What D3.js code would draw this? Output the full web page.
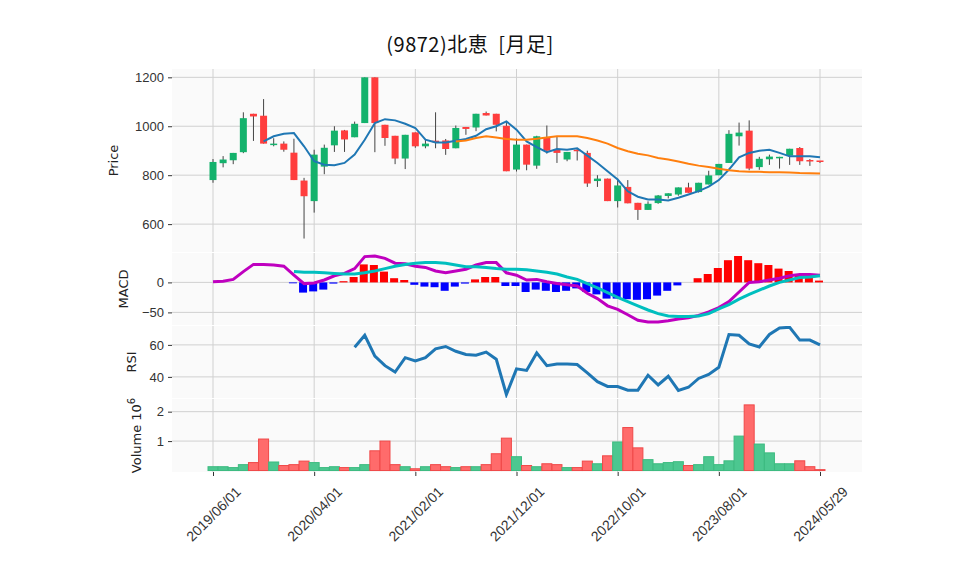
<!DOCTYPE html>
<html>
<head>
<meta charset="utf-8">
<script src="https://cdn.jsdelivr.net/npm/d3@7"></script>
<style>
  body { margin: 0; background: #fff; }
  svg { display: block; font-family: "DejaVu Sans", sans-serif; }
</style>
</head>
<body>
<svg id="chart" width="958" height="575"></svg>
<script>
// monthly bars 2019/06 .. 2024/05/29 (61 points)
const opens  = [780,849,861,894,1051,1043,925,929,892,778,694,835,922,983,955,1013,1200,1006,961,868,975,918,941,942,910,997,995,1054,1051,1002,823,925,839,956,907,864,904,891,776,786,694,752,687,658,686,715,721,750,731,762,800,850,959,982,833,865,869,880,911,862,860]
const closes = [854,864,891,1033,1040,929,929,904,780,714,884,912,982,946,1010,1200,1013,952,868,965,918,929,937,907,993,989,1051,1044,1006,816,925,843,959,900,891,895,900,766,786,694,758,685,658,683,717,726,750,728,769,799,846,969,974,827,867,876,875,908,857,860,854]
const highs  = [866,878,891,1057,1051,1111,951,938,949,789,904,925,1000,985,1019,1200,1200,1006,961,965,975,948,1057,948,1003,997,1051,1060,1051,1019,950,925,961,1003,960,895,908,900,800,786,786,780,687,693,719,726,750,769,769,818,846,984,1015,1024,875,884,875,908,915,866,858]
const lows   = [769,832,845,890,940,929,918,896,780,541,647,804,895,895,955,1013,894,920,845,825,912,910,910,883,910,965,980,1044,979,816,815,820,826,888,850,857,860,752,752,694,668,685,617,658,683,705,716,728,729,762,800,850,921,820,822,842,827,842,842,838,850]
const volumes = [.13,.13,.10,.20,.27,1.07,.29,.17,.20,.32,.27,.10,.13,.10,.10,.20,.67,1.0,.20,.13,.06,.13,.20,.13,.10,.13,.13,.20,.57,1.1,.47,.17,.13,.23,.20,.10,.10,.32,.23,.50,.97,1.46,.77,.37,.23,.27,.30,.17,.20,.47,.20,.33,1.17,2.23,.90,.60,.23,.23,.33,.13,.03]
const ma6 = [null,null,null,null,null,938,959,969,972,918,857,843,841,850,884,945,1013,1029,1024,1010,993,945,934,934,941,948,961,988,1000,1020,986,938,915,894,907,904,910,880,850,816,782,734,712,701,701,697,708,721,735,753,780,823,873,891,900,904,891,877,877,877,873]
const ma25Start = 24
const ma25 = [938,942,952,959,954,948,945,945,949,954,959,959,959,952,942,929,911,898,888,881,870,864,856,847,839,833,826,820,816,814,814,812,812,811,809,808,807]
const macd = [1,2,5,18,30,30,29,27,12,-2,-1,4,11,15,23,43,44,40,32,31,27,25,19,16,19,22,29,33,33,16,12,4,5,1,-2,-4,-6,-18,-27,-39,-45,-54,-63,-66,-66,-64,-61,-59,-55,-49,-42,-32,-16,0,1,4,7,11,13,13,12]
const sigStart = 8
const signal = [18,17,17,16,15,14,14,16,19,23,27,30,32,33,33,32,29,26,26,25,23,22,22,21,19,17,14,9,5,-2,-9,-17,-25,-32,-39,-46,-52,-56,-57,-57,-56,-52,-44,-37,-28,-20,-13,-6,0,4,8,9,11]
const hist = [-1.5,-17,-15,-12,-2,2,9,30,29,18,7,4,-4,-7,-8,-14,-7,-2,5,9,9,-6,-6,-16,-12,-14,-16,-14,-10,-16,-20,-27,-27,-28,-29,-28,-22,-14,-5,0,7,14,24,37,44,37,32,29,23,19,14,9,3]
const rsiStart = 14
const rsi = [58.5,66,53,47,43,52,50,52,57.5,59,56,54,53.5,55.5,51,29,45,44,55,47,48,48,47.7,42.5,37,34,34,31.7,31.7,41,35,40.4,31.5,33.5,39,41.5,46,66.5,66,60.6,58.7,66.5,70.6,71,63,63,60]
const tickIdx = [0,10,20,30,40,50,60]
const tickLabels = ["2019/06/01","2020/04/01","2021/02/01","2021/12/01","2022/10/01","2023/08/01","2024/05/29"]

const svg = d3.select("#chart")
const left = 172, right = 862
const x = d3.scaleLinear().domain([0, 60]).range([213, 820])

const panels = {
  price: { top: 69, bottom: 252, domain: [486, 1234], ticks: [600, 800, 1000, 1200], label: "Price", lx: 118 },
  macd: { top: 253, bottom: 325, domain: [-71, 49], ticks: [-50, 0], label: "MACD", lx: 128 },
  rsi: { top: 326, bottom: 398, domain: [26.8, 71.8], ticks: [40, 60], label: "RSI", lx: 136 },
  vol: { top: 399, bottom: 472, domain: [-0.05, 2.43], ticks: [1, 2], label: "Volume", lx: 141 },
}

Object.entries(panels).forEach(([k, p]) => {
  p.y = d3.scaleLinear().domain(p.domain).range([p.bottom, p.top])
  svg.append("rect").attr("x", left).attr("y", p.top).attr("width", right - left)
    .attr("height", p.bottom - p.top).attr("fill", "#fafafa")
  svg.append("clipPath").attr("id", "clip-" + k).append("rect")
    .attr("x", left).attr("y", p.top).attr("width", right - left).attr("height", p.bottom - p.top)
  const g = svg.append("g").attr("stroke", "#d0d0d0").attr("stroke-width", 1)
  g.selectAll(".h").data(p.ticks).join("line")
    .attr("x1", left).attr("x2", right).attr("y1", d => p.y(d)).attr("y2", d => p.y(d))
  g.selectAll(".v").data(tickIdx).join("line")
    .attr("x1", d => x(d)).attr("x2", d => x(d)).attr("y1", p.top).attr("y2", p.bottom)
  const ax = svg.append("g").attr("transform", `translate(${left},0)`)
    .call(d3.axisLeft(p.y).tickValues(p.ticks).tickSize(4).tickPadding(4).tickFormat(d => d < 0 ? "\u2212" + (-d) : d))
  ax.select(".domain").remove()
  ax.selectAll("text").attr("font-size", 13).attr("fill", "#333")
  ax.selectAll("line").attr("stroke", "#333")
  const cy = (p.top + p.bottom) / 2
  const t = svg.append("text").attr("transform", `translate(${p.lx},${cy}) rotate(-90)`)
    .attr("text-anchor", "middle").attr("font-size", 13).attr("fill", "#222").text(p.label)
  if (k === "vol") {
    t.text("Volume  10")
    t.append("tspan").attr("dy", -6).attr("font-size", 10).text("6")
  }
})

// price panel
const P = panels.price
const pg = svg.append("g").attr("clip-path", "url(#clip-price)")
const idx = d3.range(opens.length)
pg.selectAll(".wick").data(idx).join("line")
  .attr("x1", i => x(i)).attr("x2", i => x(i))
  .attr("y1", i => P.y(highs[i])).attr("y2", i => P.y(lows[i]))
  .attr("stroke", "#444").attr("stroke-width", 1)
pg.selectAll(".body").data(idx).join("rect")
  .attr("x", i => x(i) - 3.5).attr("width", 7)
  .attr("y", i => P.y(Math.max(opens[i], closes[i])))
  .attr("height", i => Math.max(1.5, Math.abs(P.y(opens[i]) - P.y(closes[i]))))
  .attr("fill", i => closes[i] >= opens[i] ? "#14b26c" : "#ff3d3d")
const line = d3.line().defined(d => d[1] != null).x(d => x(d[0]))
pg.append("path").datum(ma6.map((v, i) => [i, v]))
  .attr("fill", "none").attr("stroke", "#1f77b4").attr("stroke-width", 2)
  .attr("d", line.y(d => P.y(d[1])))
pg.append("path").datum(ma25.map((v, i) => [i + ma25Start, v]))
  .attr("fill", "none").attr("stroke", "#ff7f0e").attr("stroke-width", 2)
  .attr("d", line.y(d => P.y(d[1])))

// macd panel
const M = panels.macd
const mg = svg.append("g").attr("clip-path", "url(#clip-macd)")
mg.selectAll("rect").data(hist.map((v, i) => [i + sigStart, v])).join("rect")
  .attr("x", d => x(d[0]) - 5).attr("width", 8)
  .attr("y", d => M.y(Math.max(0, d[1]))).attr("height", d => Math.abs(M.y(d[1]) - M.y(0)))
  .attr("fill", d => d[1] >= 0 ? "#ff0000" : "#0000ff")
mg.append("path").datum(macd.map((v, i) => [i, v]))
  .attr("fill", "none").attr("stroke", "#bf00bf").attr("stroke-width", 3)
  .attr("d", line.y(d => M.y(d[1])))
mg.append("path").datum(signal.map((v, i) => [i + sigStart, v]))
  .attr("fill", "none").attr("stroke", "#00bfbf").attr("stroke-width", 3)
  .attr("d", line.y(d => M.y(d[1])))

// rsi panel
const R = panels.rsi
svg.append("g").attr("clip-path", "url(#clip-rsi)").append("path")
  .datum(rsi.map((v, i) => [i + rsiStart, v]))
  .attr("fill", "none").attr("stroke", "#1f77b4").attr("stroke-width", 3)
  .attr("d", line.y(d => R.y(d[1])))

// volume panel
const V = panels.vol
svg.append("g").attr("clip-path", "url(#clip-vol)")
  .selectAll("rect").data(idx).join("rect")
  .attr("x", i => x(i) - 5).attr("width", 10)
  .attr("y", i => V.y(volumes[i])).attr("height", i => V.y(0) - V.y(volumes[i]))
  .attr("fill", i => closes[i] >= opens[i] ? "#4cc790" : "#ff6b6b")
  .attr("stroke", i => closes[i] >= opens[i] ? "#3dbb80" : "#f04848").attr("stroke-width", 1)

// x axis, labels centred on tick and rotated
const xa = svg.append("g").attr("transform", `translate(0,${V.bottom})`)
  .call(d3.axisBottom(x).tickValues(tickIdx).tickSize(4).tickFormat((d, i) => tickLabels[i]))
xa.select(".domain").remove()
xa.selectAll("line").attr("stroke", "#333")
xa.selectAll("text").attr("font-size", 14).attr("fill", "#333")
  .attr("text-anchor", "middle").attr("y", 0).attr("dy", "0.35em")
  .attr("transform", "translate(0,42) rotate(-45)")

svg.append("text").attr("x", 470).attr("y", 52).attr("text-anchor", "middle")
  .attr("font-family", "'Noto Sans CJK JP', sans-serif").attr("font-size", 20).attr("fill", "#111")
  .attr("xml:space", "preserve").style("white-space", "pre").attr("letter-spacing", 0.5)
  .text("(9872)北恵  [月足]")
</script>
</body>
</html>
